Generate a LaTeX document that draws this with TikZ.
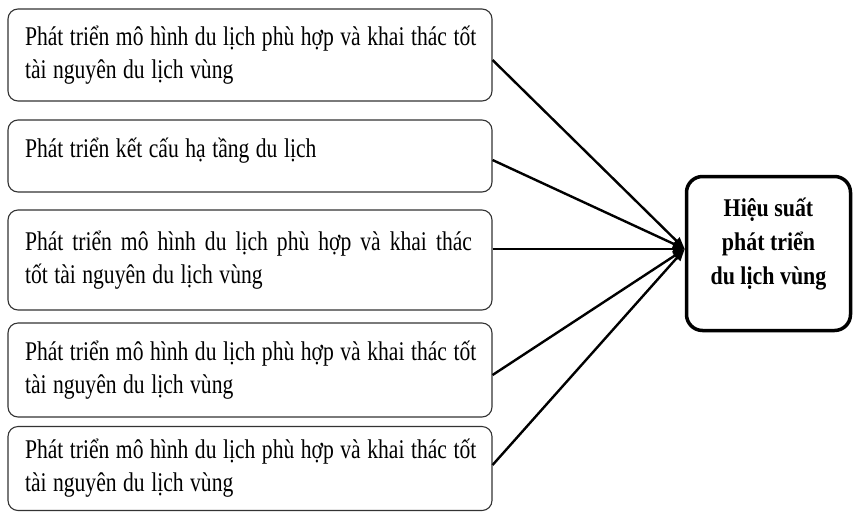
\documentclass[tikz,border=0pt]{standalone}
\usepackage{fontspec}
\setmainfont[FakeStretch=0.8]{Liberation Serif}
\newfontfamily\tgtfont[FakeStretch=0.86]{Liberation Serif}
\usetikzlibrary{arrows.meta}
\newcommand{\srcline}[1]{\mbox{\spaceskip=6.5pt plus 2pt minus 1pt\relax #1}}
\begin{document}
\begin{tikzpicture}[x=1pt,y=-1pt,
  src/.style={draw=black!80, line width=1.1pt, rounded corners=10pt,
    text width=450pt, inner xsep=17pt, align=left,
    font=\fontsize{27}{33}\selectfont},
  tgtbox/.style={draw=black, line width=3.5pt, rounded corners=16pt,
    minimum width=164pt, minimum height=154pt, inner sep=0pt},
  tgttxt/.style={align=center, inner sep=0pt,
    font=\fontsize{25.5}{34}\tgtfont\bfseries},
  conn/.style={line width=2.4pt, -{Triangle[length=12pt,width=9pt]}}]
\useasboundingbox (0,0) rectangle (853,512);

\node[src, minimum height=92pt] (b1) at (250,55)
  {\srcline{Phát triển mô hình du lịch phù hợp và khai thác tốt}\\\srcline{tài nguyên du lịch vùng}};
\node[src, minimum height=72pt, text height=21pt, text depth=19pt] (b2) at (250,156)
  {\srcline{Phát triển kết cấu hạ tầng du lịch}};
\node[src, minimum height=100pt] (b3) at (250,260)
  {\makebox[448pt][s]{Phát triển mô hình du lịch phù hợp và khai thác}\\\srcline{tốt tài nguyên du lịch vùng}};
\node[src, minimum height=94pt] (b4) at (250,370)
  {\srcline{Phát triển mô hình du lịch phù hợp và khai thác tốt}\\\srcline{tài nguyên du lịch vùng}};
\node[src, minimum height=84pt] (b5) at (250,468.5)
  {\srcline{Phát triển mô hình du lịch phù hợp và khai thác tốt}\\\srcline{tài nguyên du lịch vùng}};

\node[tgtbox] (tgt) at (768.5,253.5) {};
\node[tgttxt] (tgtlabel) at (768.5,244) {Hiệu suất\\phát triển\\du lịch vùng};

\coordinate (tip) at ([yshift=4.5pt]tgt.west);
\draw[conn] ([yshift=-5pt]b1.east) -- (tip);
\draw[conn] ([yshift=-4pt]b2.east) -- (tip);
\draw[conn] (b3.east |- tip) -- (tip);
\draw[conn] ([yshift=-5pt]b4.east) -- (tip);
\draw[conn] ([yshift=3.5pt]b5.east) -- (tip);
\end{tikzpicture}
\end{document}
